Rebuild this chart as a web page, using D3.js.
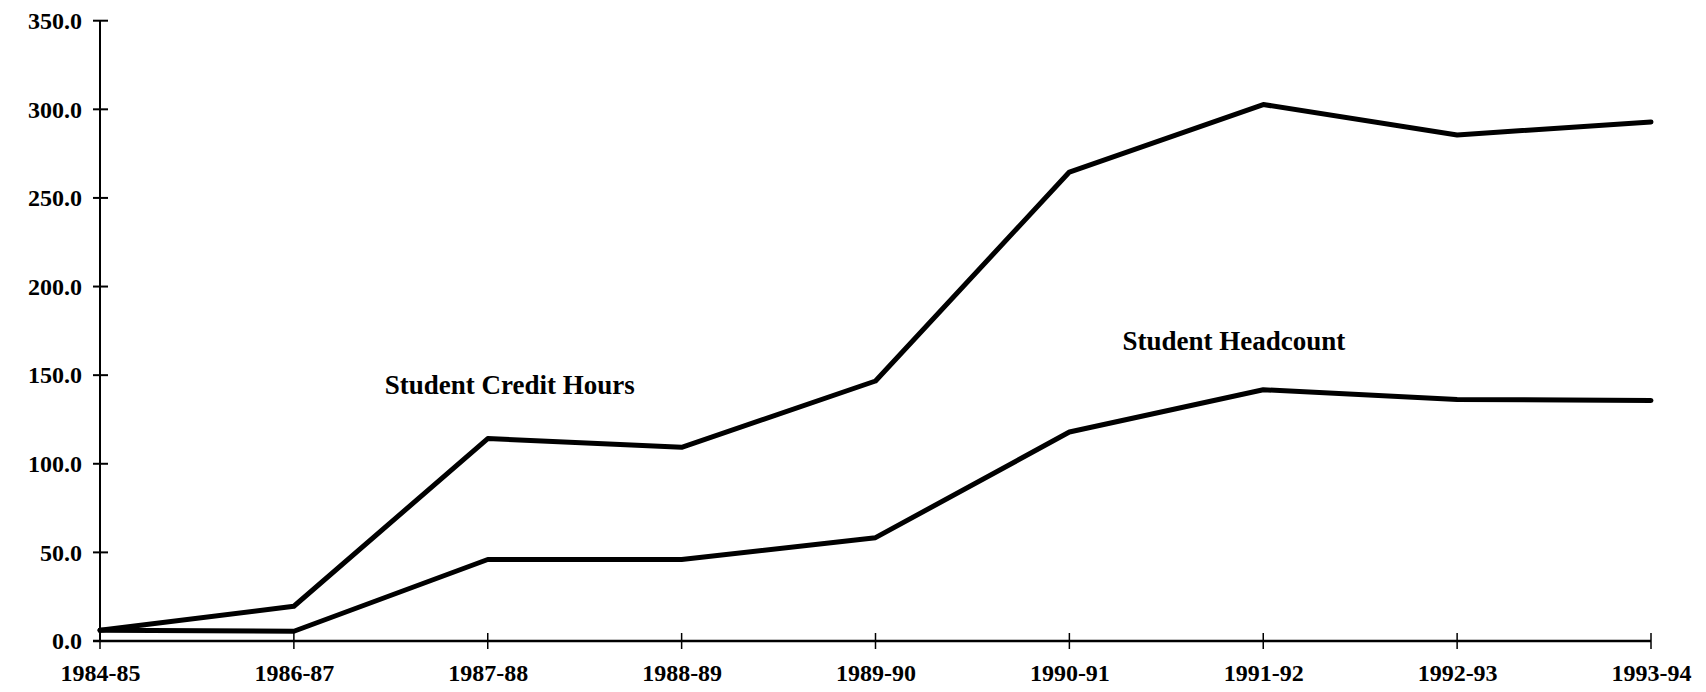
<!DOCTYPE html>
<html>
<head>
<meta charset="utf-8">
<script src="https://cdn.jsdelivr.net/npm/d3@7"></script>
<style>
  html, body { margin: 0; padding: 0; background: #fff; }
  svg { display: block; }
  text { font-family: "Liberation Serif", "Times New Roman", serif; font-weight: bold; fill: #000; }
</style>
</head>
<body>
<svg id="chart" width="1706" height="692"></svg>
<script>
const categories = ["1984-85", "1986-87", "1987-88", "1988-89", "1989-90", "1990-91", "1991-92", "1992-93", "1993-94"];
const creditHours = [6.1, 19.6, 114.2, 109.3, 146.7, 264.6, 302.7, 285.5, 292.9];
const headcount = [6.0, 5.5, 46.0, 46.0, 58.3, 117.9, 141.8, 136.3, 135.7];
const yTicks = [0, 50, 100, 150, 200, 250, 300, 350];
const seriesLabels = [
  { text: "Student Credit Hours", cat: "1987-88", value: 139.5, dx: -103 },
  { text: "Student Headcount", cat: "1990-91", value: 164, dx: 53 }
];

const svg = d3.select("#chart");
const x = d3.scalePoint().domain(categories).range([100, 1651]);
const y = d3.scaleLinear().domain([0, 350]).range([641, 20.7]);

// axes
const yAxis = svg.append("g").attr("transform", "translate(100,0)")
  .call(d3.axisLeft(y).tickValues(yTicks).tickFormat(d3.format(".1f")).tickSize(0).tickPadding(18));
yAxis.select(".domain").remove();
yAxis.selectAll("text").style("font-size", "24px").attr("font-family", null).attr("fill", "#000");

svg.append("line").attr("x1", 100).attr("x2", 100).attr("y1", y(350)).attr("y2", y(0))
  .attr("stroke", "#000").attr("stroke-width", 2);
svg.selectAll(".ytick").data(yTicks).join("line").attr("class", "ytick")
  .attr("x1", 93).attr("x2", 108).attr("y1", d => y(d)).attr("y2", d => y(d))
  .attr("stroke", "#000").attr("stroke-width", 2);

const xAxis = svg.append("g").attr("transform", `translate(0,${y(0)})`)
  .call(d3.axisBottom(x).tickSize(0).tickPadding(23));
xAxis.select(".domain").remove();
xAxis.selectAll("text").style("font-size", "24px").attr("font-family", null).attr("fill", "#000");

svg.append("line").attr("x1", 93).attr("x2", 1651).attr("y1", y(0)).attr("y2", y(0))
  .attr("stroke", "#000").attr("stroke-width", 2.5);
svg.selectAll(".xtick").data(categories).join("line").attr("class", "xtick")
  .attr("x1", d => x(d)).attr("x2", d => x(d)).attr("y1", y(0) - 8).attr("y2", y(0) + 8)
  .attr("stroke", "#000").attr("stroke-width", 1.5);

// lines
const line = d3.line().x((d, i) => x(categories[i])).y(d => y(d));
[creditHours, headcount].forEach(s => {
  svg.append("path").datum(s).attr("d", line)
    .attr("fill", "none").attr("stroke", "#000").attr("stroke-width", 5)
    .attr("stroke-linejoin", "round").attr("stroke-linecap", "round");
});

// labels
svg.selectAll(".slabel").data(seriesLabels).join("text").attr("class", "slabel")
  .attr("x", d => x(d.cat) + d.dx).attr("y", d => y(d.value))
  .style("font-size", "27px")
  .text(d => d.text);
</script>
</body>
</html>
